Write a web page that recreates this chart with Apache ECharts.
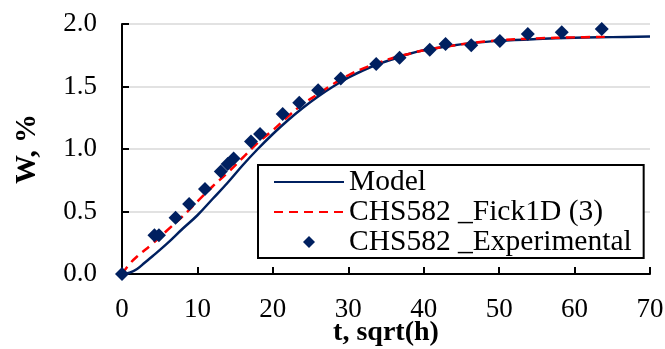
<!DOCTYPE html>
<html>
<head>
<meta charset="utf-8">
<script src="https://cdn.jsdelivr.net/npm/echarts@6/dist/echarts.min.js"></script>
<style>
  html, body { margin: 0; padding: 0; background: #fff; }
  #chart { width: 665px; height: 349px; }
</style>
</head>
<body>
<div id="chart"></div>
<script>
// experimental points
const expT = [0, 4.3, 4.9, 7.1, 8.9, 11.0, 13.1, 14.0, 14.8, 17.1, 18.3, 21.3, 23.5, 26.0, 29.0, 33.7, 36.8, 40.8, 42.9, 46.3, 50.1, 53.8, 58.3, 63.6];
const expW = [0, 0.31, 0.31, 0.45, 0.56, 0.68, 0.82, 0.88, 0.925, 1.06, 1.12, 1.28, 1.37, 1.47, 1.565, 1.68, 1.73, 1.795, 1.84, 1.83, 1.865, 1.92, 1.935, 1.96];

// model curve
const modelT = [0, 1, 2, 3, 4, 6, 8, 10, 12, 14, 16, 18, 20, 22, 24, 26, 28, 30, 32, 34, 36, 38, 40, 43, 46, 50, 55, 60, 65, 70];
const modelW = [0, 0.01, 0.04, 0.09, 0.14, 0.245, 0.36, 0.47, 0.6, 0.73, 0.87, 1.0, 1.12, 1.23, 1.33, 1.42, 1.5, 1.57, 1.63, 1.68, 1.72, 1.76, 1.79, 1.82, 1.845, 1.865, 1.88, 1.89, 1.895, 1.9];

// Fick1D curve
const fickT = [0, 1, 2, 4, 6, 8, 10, 12, 14, 16, 18, 20, 22, 24, 26, 28, 30, 32, 34, 36, 38, 40, 43, 46, 50, 55, 60, 64];
const fickW = [0, 0.08, 0.14, 0.24, 0.35, 0.46, 0.58, 0.7, 0.81, 0.93, 1.05, 1.15, 1.26, 1.36, 1.44, 1.52, 1.59, 1.645, 1.69, 1.73, 1.76, 1.79, 1.82, 1.845, 1.87, 1.885, 1.893, 1.897];

const xTicks = { min: 0, max: 70, step: 10 };
const yTicks = { min: 0, max: 2, step: 0.5 };

const zip = (a, b) => a.map((v, i) => [v, b[i]]);

const navy = '#002060';
const font = '"Liberation Serif", "Times New Roman", serif';

const chart = echarts.init(document.getElementById('chart'), null, { renderer: 'canvas' });

const option = {
  animation: false,
  textStyle: { fontFamily: font },
  grid: { left: 122, right: 15, top: 24, bottom: 75, containLabel: false, outerBoundsMode: 'none' },
  legend: {
    orient: 'vertical',
    left: 258,
    top: 165,
    padding: [2, 12, 1, 15],
    itemGap: 0,
    itemWidth: 70,
    itemHeight: 14,
    borderColor: '#000',
    borderWidth: 2,
    backgroundColor: '#fff',
    textStyle: { fontFamily: font, fontSize: 29.5, color: '#000', lineHeight: 28 },
    data: [
      { name: 'Model', itemStyle: { opacity: 0 } },
      { name: 'CHS582 _Fick1D (3)', itemStyle: { opacity: 0 } },
      { name: 'CHS582 _Experimental', icon: 'path://M0,7L0,7M70,7L70,7M35,1L41,7L35,13L29,7Z' }
    ]
  },
  xAxis: {
    type: 'value',
    min: xTicks.min,
    max: xTicks.max,
    interval: xTicks.step,
    name: 't, sqrt(h)',
    nameLocation: 'middle',
    nameGap: 45,
    nameMoveOverlap: false,
    nameTextStyle: { fontFamily: font, fontSize: 28, fontWeight: 'bold', color: '#000' },
    axisLine: { lineStyle: { color: '#000', width: 2 } },
    axisTick: { inside: true, length: 7, lineStyle: { color: '#000', width: 2 } },
    axisLabel: { color: '#000', fontSize: 27, fontFamily: font, margin: 22 },
    splitLine: { show: false }
  },
  yAxis: {
    type: 'value',
    min: yTicks.min,
    max: yTicks.max,
    interval: yTicks.step,
    name: 'W, %',
    nameLocation: 'middle',
    nameRotate: 90,
    nameGap: 80,
    nameMoveOverlap: false,
    nameTextStyle: { fontFamily: font, fontSize: 29, fontWeight: 'bold', color: '#000' },
    axisLine: { show: true, lineStyle: { color: '#000', width: 2 } },
    axisTick: { show: true, inside: true, length: 7, lineStyle: { color: '#000', width: 2 } },
    axisLabel: {
      color: '#000', fontSize: 27, fontFamily: font, margin: 25,
      formatter: v => v.toFixed(1)
    },
    splitLine: { show: true, lineStyle: { color: '#d9d9d9', width: 1.5 } }
  },
  series: [
    {
      name: 'Model',
      type: 'line',
      data: zip(modelT, modelW),
      smooth: 0.4,
      symbol: 'none',
      lineStyle: { color: navy, width: 2.5 },
      itemStyle: { color: navy },
      z: 2
    },
    {
      name: 'CHS582 _Fick1D (3)',
      type: 'line',
      data: zip(fickT, fickW),
      smooth: 0.4,
      symbol: 'none',
      lineStyle: { color: '#ff0000', width: 2.5, type: [9, 6] },
      itemStyle: { color: '#ff0000' },
      z: 3
    },
    {
      name: 'CHS582 _Experimental',
      type: 'scatter',
      data: zip(expT, expW),
      symbol: 'diamond',
      symbolSize: 14,
      itemStyle: { color: navy, opacity: 1 },
      z: 4
    }
  ]
};

chart.setOption(option);
</script>
</body>
</html>
